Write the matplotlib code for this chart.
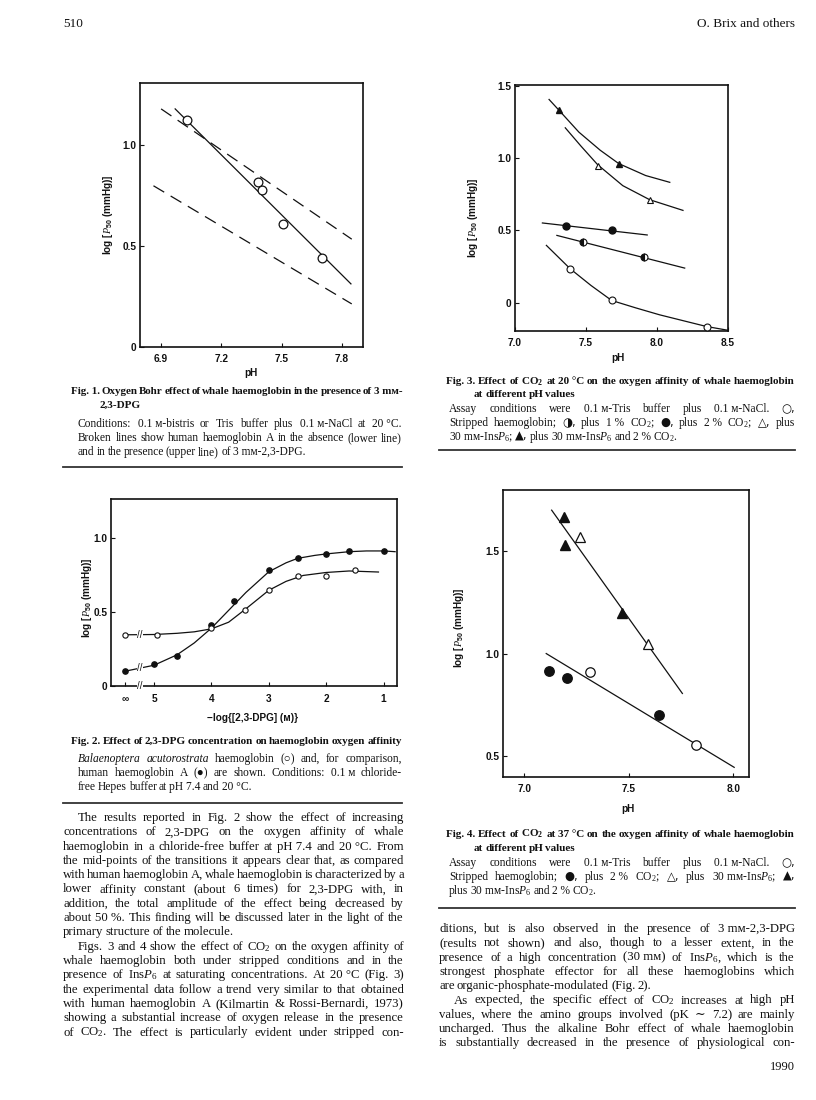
import numpy as np
import matplotlib
matplotlib.use("Agg")
import matplotlib.pyplot as plt

plt.rcParams["font.family"] = ["Liberation Sans", "DejaVu Sans"]
plt.rcParams["mathtext.fontset"] = "custom"
plt.rcParams["mathtext.rm"] = "Liberation Serif"
plt.rcParams["mathtext.it"] = "Liberation Serif:italic"
plt.rcParams["mathtext.bf"] = "Liberation Serif:bold"
plt.rcParams["mathtext.sf"] = "Liberation Sans:bold"

W, H = 816, 1100
SERIF = ["Liberation Serif", "DejaVu Serif", "DejaVu Sans"]
SYMBOLS = "\u25cb\u25cf\u25d1\u25b3\u25b2"
INK = "#111111"

# ---- Fig. 1: Bohr effect, 3 mM 2,3-DPG
bohr_ph = [7.03, 7.38, 7.40, 7.505, 7.70]
bohr_logp50 = [1.12, 0.818, 0.774, 0.609, 0.439]
bohr_fit_ph = [6.97, 7.845]
bohr_fit_logp50 = [1.177, 0.312]
hba_dpg_ph = [6.90, 7.849]
hba_dpg_logp50 = [1.177, 0.533]
hba_ph = [6.862, 7.849]
hba_logp50 = [0.797, 0.213]

# ---- Fig. 2: 2,3-DPG titration (x = -log[DPG], 5.5 stands for infinity)
dpg_ticks = [5.5, 5, 4, 3, 2, 1]
dpg_ticklabels = ["\u221e", "5", "4", "3", "2", "1"]
hba_x = [5.5, 5.0, 4.6, 4.0, 3.6, 3.0, 2.5, 2.0, 1.6, 1.0]
hba_y = [0.10, 0.15, 0.20, 0.41, 0.57, 0.78, 0.86, 0.89, 0.91, 0.91]
whale_x = [5.5, 4.95, 4.0, 3.42, 3.0, 2.5, 2.0, 1.5]
whale_y = [0.345, 0.347, 0.39, 0.513, 0.649, 0.743, 0.739, 0.779]
hba_fit_x = [5.5, 5.0, 4.6, 4.3, 4.0, 3.7, 3.4, 3.0, 2.7, 2.5, 2.2, 2.0, 1.6, 1.3, 1.0, 0.8]
hba_fit_y = [0.10, 0.14, 0.21, 0.29, 0.39, 0.51, 0.63, 0.77, 0.83, 0.86, 0.88, 0.89, 0.905, 0.91, 0.91, 0.905]
whale_fit_x = [5.5, 5.0, 4.6, 4.3, 4.0, 3.7, 3.4, 3.0, 2.7, 2.4, 2.0, 1.6, 1.09]
whale_fit_y = [0.345, 0.347, 0.355, 0.365, 0.385, 0.43, 0.52, 0.645, 0.705, 0.745, 0.765, 0.775, 0.768]
BREAK_X = 5.25

# ---- Fig. 3: CO2 at 20 C
f3_strip_ph = [7.389, 7.681, 8.349]
f3_strip_y = [0.235, 0.016, -0.164]
f3_co2_1_ph = [7.476, 7.907]
f3_co2_1_y = [0.42, 0.316]
f3_co2_2_ph = [7.358, 7.681]
f3_co2_2_y = [0.533, 0.50]
f3_ins_ph = [7.582, 7.948]
f3_ins_y = [0.944, 0.713]
f3_insco2_ph = [7.311, 7.73]
f3_insco2_y = [1.33, 0.963]
f3_strip_fit_ph = [7.221, 7.389, 7.535, 7.681, 7.85, 8.018, 8.349, 8.5]
f3_strip_fit_y = [0.397, 0.235, 0.12, 0.016, -0.035, -0.083, -0.164, -0.19]
f3_co2_1_fit_ph = [7.295, 8.195]
f3_co2_1_fit_y = [0.466, 0.24]
f3_co2_2_fit_ph = [7.193, 7.931]
f3_co2_2_fit_y = [0.552, 0.469]
f3_ins_fit_ph = [7.354, 7.465, 7.582, 7.759, 7.948, 8.183]
f3_ins_fit_y = [1.21, 1.083, 0.955, 0.81, 0.713, 0.639]
f3_insco2_fit_ph = [7.24, 7.311, 7.45, 7.60, 7.73, 7.92, 8.09]
f3_insco2_fit_y = [1.406, 1.33, 1.18, 1.055, 0.963, 0.88, 0.833]

# ---- Fig. 4: CO2 at 37 C
f4_strip_ph = [7.315, 7.82]
f4_strip_y = [0.908, 0.555]
f4_co2_ph = [7.116, 7.204, 7.646]
f4_co2_y = [0.914, 0.88, 0.70]
f4_ins_ph = [7.266, 7.591]
f4_ins_y = [1.568, 1.045]
f4_insco2_ph = [7.191, 7.196, 7.467]
f4_insco2_y = [1.665, 1.53, 1.196]
f4_upper_ph = [7.131, 7.757]
f4_upper_y = [1.697, 0.806]
f4_lower_ph = [7.105, 8.005]
f4_lower_y = [1.0, 0.447]

fig = plt.figure(figsize=(W / 100, H / 100), dpi=100)
fig.patch.set_facecolor("white")
renderer = fig.canvas.get_renderer()


def px_axes(left, top, right, bottom):
    ax = fig.add_axes([left / W, 1 - bottom / H, (right - left) / W, (bottom - top) / H])
    for s in ax.spines.values():
        s.set_linewidth(1.2)
        s.set_color(INK)
    ax.tick_params(direction="in", length=3, width=0.8, labelsize=7.3, colors=INK)
    ax.tick_params(axis="x", pad=5)
    ax.tick_params(axis="y", pad=2.5)
    return ax


def bold_ticks(ax):
    for t in ax.get_xticklabels() + ax.get_yticklabels():
        t.set_fontweight("bold")


def label(x, y, text, rot=0):
    fig.text(x / W, 1 - y / H, text, rotation=rot, ha="center", va="center",
             fontsize=7.2, fontweight="bold", color=INK)


def put_line(text, x0, x1, y, size, weight="normal", justify=True):
    arts = []
    for w in text.split(" "):
        style, fam = "normal", SERIF
        if w.startswith("_"):
            w, style = w[1:], "italic"
        if w and w[0] in SYMBOLS:
            fam = ["DejaVu Sans"]
        arts.append(fig.text(0, 0, w, fontsize=size, fontweight=weight, fontstyle=style,
                             family=fam, va="baseline", ha="left", color=INK))
    widths = [a.get_window_extent(renderer).width for a in arts]
    space = size * 0.25
    if justify and len(arts) > 1:
        min_gap = size * 0.2
        if x1 - x0 - sum(widths) < min_gap * (len(arts) - 1):
            scale = (x1 - x0 - min_gap * (len(arts) - 1)) / sum(widths)
            for a in arts:
                a.set_fontsize(size * scale)
            widths = [a.get_window_extent(renderer).width for a in arts]
        space = (x1 - x0 - sum(widths)) / (len(arts) - 1)
    x = x0
    for a, w in zip(arts, widths):
        a.set_position((x / W, 1 - (y + 3) / H))
        x += w + space


def rule(x0, x1, y):
    fig.add_artist(plt.Line2D([x0 / W, x1 / W], [1 - y / H, 1 - y / H], color="#333333", lw=1.3))


# ---------------- Fig. 1
ax1 = px_axes(140, 83, 363, 347)
ax1.plot(bohr_fit_ph, bohr_fit_logp50, color=INK, lw=0.9)
ax1.plot(hba_dpg_ph, hba_dpg_logp50, color=INK, lw=0.9, dashes=(10, 6))
ax1.plot(hba_ph, hba_logp50, color=INK, lw=0.9, dashes=(10, 6))
ax1.plot(bohr_ph, bohr_logp50, "o", ms=6.3, mfc="white", mec=INK, mew=0.9, zorder=3)
ax1.set_xlim(6.795, 7.905)
ax1.set_ylim(0, 1.305)
ax1.set_xticks([6.9, 7.2, 7.5, 7.8])
ax1.set_xticklabels(["6.9", "7.2", "7.5", "7.8"])
ax1.set_yticks([0, 0.5, 1.0])
ax1.set_yticklabels(["0", "0.5", "1.0"])
bold_ticks(ax1)
label(108, 215, r"log [$\mathit{P}_{\mathsf{50}}$ (mmHg)]", 90)
label(251, 373, "pH")

# ---------------- Fig. 3
ax3 = px_axes(515, 85, 728, 331)
ax3.plot(f3_insco2_fit_ph, f3_insco2_fit_y, color=INK, lw=0.9)
ax3.plot(f3_ins_fit_ph, f3_ins_fit_y, color=INK, lw=0.9)
ax3.plot(f3_co2_2_fit_ph, f3_co2_2_fit_y, color=INK, lw=0.9)
ax3.plot(f3_co2_1_fit_ph, f3_co2_1_fit_y, color=INK, lw=0.9)
ax3.plot(f3_strip_fit_ph, f3_strip_fit_y, color=INK, lw=0.9)
ax3.plot(f3_insco2_ph, f3_insco2_y, "^", ms=5, mfc=INK, mec=INK, zorder=3)
ax3.plot(f3_ins_ph, f3_ins_y, "^", ms=5, mfc="white", mec=INK, mew=0.8, zorder=3)
ax3.plot(f3_co2_2_ph, f3_co2_2_y, "o", ms=5, mfc=INK, mec=INK, zorder=3)
ax3.plot(f3_co2_1_ph, f3_co2_1_y, "o", ms=5, fillstyle="left", mfc=INK, mfcalt="white",
         mec=INK, mew=0.8, zorder=3)
ax3.plot(f3_strip_ph, f3_strip_y, "o", ms=5, mfc="white", mec=INK, mew=0.8, zorder=3)
ax3.set_xlim(7.0, 8.5)
ax3.set_ylim(-0.195, 1.506)
ax3.set_xticks([7.0, 7.5, 8.0, 8.5])
ax3.set_xticklabels(["7.0", "7.5", "8.0", "8.5"])
ax3.set_yticks([0, 0.5, 1.0, 1.5])
ax3.set_yticklabels(["0", "0.5", "1.0", "1.5"])
bold_ticks(ax3)
label(473, 218, r"log [$\mathit{P}_{\mathsf{50}}$ (mmHg)]", 90)
label(618, 358, "pH")

# ---------------- Fig. 2
ax2 = px_axes(111, 499, 397, 686)
ax2.plot(hba_fit_x, hba_fit_y, color=INK, lw=0.9)
ax2.plot(whale_fit_x, whale_fit_y, color=INK, lw=0.9)
ax2.plot(hba_x, hba_y, "o", ms=3.8, mfc=INK, mec=INK, zorder=3)
ax2.plot(whale_x, whale_y, "o", ms=3.8, mfc="white", mec=INK, mew=0.8, zorder=3)
for xs, ys in [(hba_fit_x, hba_fit_y), (whale_fit_x, whale_fit_y)]:
    yb = np.interp(BREAK_X, xs[::-1], ys[::-1])
    ax2.text(BREAK_X, yb, "//", ha="center", va="center", fontsize=7, color=INK,
             bbox=dict(fc="white", ec="none", pad=0.2), zorder=4)
ax2.text(BREAK_X, 0, "//", ha="center", va="center", fontsize=7, color=INK, clip_on=False,
         bbox=dict(fc="white", ec="none", pad=0.2), zorder=4)
ax2.set_xlim(5.75, 0.767)
ax2.set_ylim(0, 1.26)
ax2.set_xticks(dpg_ticks)
ax2.set_xticklabels(dpg_ticklabels)
ax2.tick_params(axis="x", pad=6)
ax2.set_yticks([0, 0.5, 1.0])
ax2.set_yticklabels(["0", "0.5", "1.0"])
bold_ticks(ax2)
label(87, 598, r"log [$\mathit{P}_{\mathsf{50}}$ (mmHg)]", 90)
label(253, 718, "\u2212log{[2,3-DPG] (\u043c)}")

# ---------------- Fig. 4
ax4 = px_axes(503, 490, 749, 777)
ax4.plot(f4_upper_ph, f4_upper_y, color=INK, lw=0.9)
ax4.plot(f4_lower_ph, f4_lower_y, color=INK, lw=0.9)
ax4.plot(f4_insco2_ph, f4_insco2_y, "^", ms=6.8, mfc=INK, mec=INK, zorder=3)
ax4.plot(f4_ins_ph, f4_ins_y, "^", ms=6.8, mfc="white", mec=INK, mew=0.9, zorder=3)
ax4.plot(f4_co2_ph, f4_co2_y, "o", ms=6.8, mfc=INK, mec=INK, zorder=3)
ax4.plot(f4_strip_ph, f4_strip_y, "o", ms=6.8, mfc="white", mec=INK, mew=0.9, zorder=3)
ax4.set_xlim(6.898, 8.076)
ax4.set_ylim(0.40, 1.795)
ax4.set_xticks([7.0, 7.5, 8.0])
ax4.set_xticklabels(["7.0", "7.5", "8.0"])
ax4.set_yticks([0.5, 1.0, 1.5])
ax4.set_yticklabels(["0.5", "1.0", "1.5"])
bold_ticks(ax4)
label(459, 628, r"log [$\mathit{P}_{\mathsf{50}}$ (mmHg)]", 90)
label(628, 809, "pH")

# ---------------- page text
L0, L1 = 63, 402
R0, R1 = 439, 795
CAP, TIT, BODY = 8.3, 8.0, 9.2
NB = "\u00a0"
M = "\u043c"
INS = r"Ins$\mathit{P}_6$"
CO2 = r"CO$_2$"
CO2B = r"CO$_\mathbf{2}$"

put_line("510", L0, L1, 24, 9.5, justify=False)
fig.text(R1 / W, 1 - 27 / H, "O. Brix and others", ha="right", va="baseline",
         fontsize=9.5, family=SERIF, color=INK)
fig.text(R1 / W, 1 - 1070 / H, "1990", ha="right", va="baseline",
         fontsize=9, family=SERIF, color=INK)

# Fig. 1 caption
put_line(f"Fig.{NB}1. Oxygen Bohr effect of whale haemoglobin in the presence of 3{NB}m{M}-",
         L0 + 8, L1, 391, TIT, "bold")
put_line("2,3-DPG", L0 + 37, L1, 405, TIT, "bold", justify=False)
put_line(f"Conditions: 0.1{NB}{M}-bistris or Tris buffer plus 0.1{NB}{M}-NaCl at 20{NB}°C.",
         L0 + 15, L1, 424, CAP)
put_line("Broken lines show human haemoglobin A in the absence (lower line)",
         L0 + 15, L1, 438, CAP)
put_line(f"and in the presence (upper line) of 3{NB}m{M}-2,3-DPG.", L0 + 15, L1, 452, CAP, justify=False)
rule(L0, L1, 467)

# Fig. 2 caption
put_line(f"Fig.{NB}2. Effect of 2,3-DPG concentration on haemoglobin oxygen affinity",
         L0 + 8, L1, 741, TIT, "bold")
put_line("_Balaenoptera _acutorostrata haemoglobin (\u25cb) and, for comparison,",
         L0 + 15, L1, 759, CAP)
put_line(f"human haemoglobin A (\u25cf) are shown. Conditions: 0.1{NB}{M} chloride-",
         L0 + 15, L1, 773, CAP)
put_line(f"free Hepes buffer at pH{NB}7.4 and 20{NB}°C.", L0 + 15, L1, 787, CAP, justify=False)
rule(L0, L1, 803)

# left column body
left_body = [
    "The results reported in Fig. 2 show the effect of increasing",
    "concentrations of 2,3-DPG on the oxygen affinity of whale",
    f"haemoglobin in a chloride-free buffer at pH{NB}7.4 and 20{NB}°C. From",
    "the mid-points of the transitions it appears clear that, as compared",
    "with human haemoglobin A, whale haemoglobin is characterized by a",
    "lower affinity constant (about 6 times) for 2,3-DPG with, in",
    "addition, the total amplitude of the effect being decreased by",
    f"about 50{NB}%. This finding will be discussed later in the light of the",
    "primary structure of the molecule.",
    f"Figs. 3 and 4 show the effect of {CO2} on the oxygen affinity of",
    "whale haemoglobin both under stripped conditions and in the",
    f"presence of {INS} at saturating concentrations. At 20{NB}°C (Fig. 3)",
    "the experimental data follow a trend very similar to that obtained",
    "with human haemoglobin A (Kilmartin & Rossi-Bernardi, 1973)",
    "showing a substantial increase of oxygen release in the presence",
    f"of {CO2}. The effect is particularly evident under stripped con-",
]
left_indent = [0, 9]
left_last = [8]
for i, s in enumerate(left_body):
    x0 = L0 + 15 if i in left_indent else L0
    put_line(s, x0, L1 + 2, 818 + i * 14.3, BODY, justify=i not in left_last)

# Fig. 3 caption
put_line(f"Fig.{NB}3. Effect of {CO2B} at 20{NB}°C on the oxygen affinity of whale haemoglobin",
         R0 + 7, R1, 381, TIT, "bold")
put_line("at different pH values", R0 + 35, R1, 394, TIT, "bold", justify=False)
put_line(f"Assay conditions were 0.1{NB}{M}-Tris buffer plus 0.1{NB}{M}-NaCl. \u25cb,",
         R0 + 10, R1, 409, CAP)
put_line(f"Stripped haemoglobin; \u25d1, plus 1{NB}% {CO2}; \u25cf, plus 2{NB}% {CO2}; \u25b3, plus",
         R0 + 10, R1, 423, CAP)
put_line(f"30{NB}m{M}-{INS}; \u25b2, plus 30{NB}m{M}-{INS} and 2{NB}% {CO2}.",
         R0 + 10, R1, 437, CAP, justify=False)
rule(R0, R1, 450)

# Fig. 4 caption
put_line(f"Fig.{NB}4. Effect of {CO2B} at 37{NB}°C on the oxygen affinity of whale haemoglobin",
         R0 + 7, R1, 834, TIT, "bold")
put_line("at different pH values", R0 + 35, R1, 848, TIT, "bold", justify=False)
put_line(f"Assay conditions were 0.1{NB}{M}-Tris buffer plus 0.1{NB}{M}-NaCl. \u25cb,",
         R0 + 10, R1, 863, CAP)
put_line(f"Stripped haemoglobin; \u25cf, plus 2{NB}% {CO2}; \u25b3, plus 30{NB}m{M}-{INS}; \u25b2,",
         R0 + 10, R1, 877, CAP)
put_line(f"plus 30{NB}m{M}-{INS} and 2{NB}% {CO2}.", R0 + 10, R1, 891, CAP, justify=False)
rule(R0, R1, 908)

# right column body
right_body = [
    f"ditions, but is also observed in the presence of 3{NB}m{M}-2,3-DPG",
    "(results not shown) and also, though to a lesser extent, in the",
    f"presence of a high concentration (30{NB}m{M}) of {INS}, which is the",
    "strongest phosphate effector for all these haemoglobins which",
    "are organic-phosphate-modulated (Fig. 2).",
    f"As expected, the specific effect of {CO2} increases at high pH",
    "values, where the amino groups involved (pK \u223c 7.2) are mainly",
    "uncharged. Thus the alkaline Bohr effect of whale haemoglobin",
    "is substantially decreased in the presence of physiological con-",
]
right_indent = [5]
right_last = [4]
for i, s in enumerate(right_body):
    x0 = R0 + 15 if i in right_indent else R0
    put_line(s, x0, R1, 929 + i * 14.3, BODY, justify=i not in right_last)

fig.savefig("out.png", dpi=100, facecolor="white")
